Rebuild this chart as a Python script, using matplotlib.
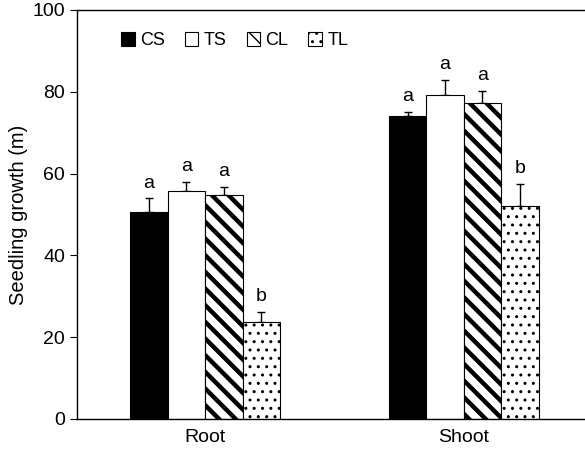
import numpy as np
import matplotlib
matplotlib.use("Agg")
import matplotlib.pyplot as plt

plt.rcParams['font.family'] = ['Liberation Sans', 'DejaVu Sans']

groups = ["Root", "Shoot"]
treatments = ["CS", "TS", "CL", "TL"]
means = {
    "CS": [50.6, 74.1],
    "TS": [55.8, 79.2],
    "CL": [54.8, 77.2],
    "TL": [23.8, 52.1],
}
errs = {
    "CS": [3.4, 1.0],
    "TS": [2.2, 3.7],
    "CL": [2.0, 3.0],
    "TL": [2.4, 5.4],
}
letters = {
    "CS": ["a", "a"],
    "TS": ["a", "a"],
    "CL": ["a", "a"],
    "TL": ["b", "b"],
}

faces = {"CS": "black", "TS": "white", "CL": "white", "TL": "white"}
hatches = {"CS": None, "TS": None, "CL": "\\\\", "TL": ".."}
hatch_lw = {"CS": 1.0, "TS": 1.0, "CL": 3.2, "TL": 1.0}

fig = plt.figure(figsize=(5.85, 4.54), dpi=100)
ax = fig.add_axes([0.1316, 0.0771, 0.8684, 0.9009])

x = np.arange(len(groups))
w = 0.145
for i, t in enumerate(treatments):
    pos = x + (i - 1.5) * w
    with plt.rc_context({"hatch.linewidth": hatch_lw[t]}):
        bars = ax.bar(pos, means[t], w, color=faces[t], edgecolor="black",
                      linewidth=0.8, hatch=hatches[t], label=t, zorder=2)
    for b in bars:
        if hasattr(b, "set_hatch_linewidth"):
            b.set_hatch_linewidth(hatch_lw[t])
    ax.errorbar(pos, means[t], yerr=[np.zeros(len(groups)), errs[t]],
                fmt="none", ecolor="black", elinewidth=1, capsize=3,
                capthick=1, zorder=1)
    for p, m, e, l in zip(pos, means[t], errs[t], letters[t]):
        ax.text(p, m + e + 1.6, l, ha="center", va="bottom", fontsize=14)

ax.set_xlim(-0.496, 1.469)
ax.set_ylim(0, 100)
ax.set_yticks([0, 20, 40, 60, 80, 100])
ax.set_xticks(x)
ax.set_xticklabels(groups)
ax.tick_params(axis="x", length=0, labelsize=14, pad=7)
ax.tick_params(axis="y", direction="out", length=5, labelsize=14)
ax.set_ylabel("Seedling growth (m)", fontsize=14.5, labelpad=3)
ax.spines["right"].set_visible(False)
for s in ["left", "bottom", "top"]:
    ax.spines[s].set_linewidth(1.0)

ax.legend(loc="upper left", ncol=4, frameon=False, fontsize=13,
          handlelength=0.75, handleheight=0.75, handletextpad=0.3,
          columnspacing=1.1, bbox_to_anchor=(0.055, 0.985))

fig.savefig("out.png", dpi=100)
